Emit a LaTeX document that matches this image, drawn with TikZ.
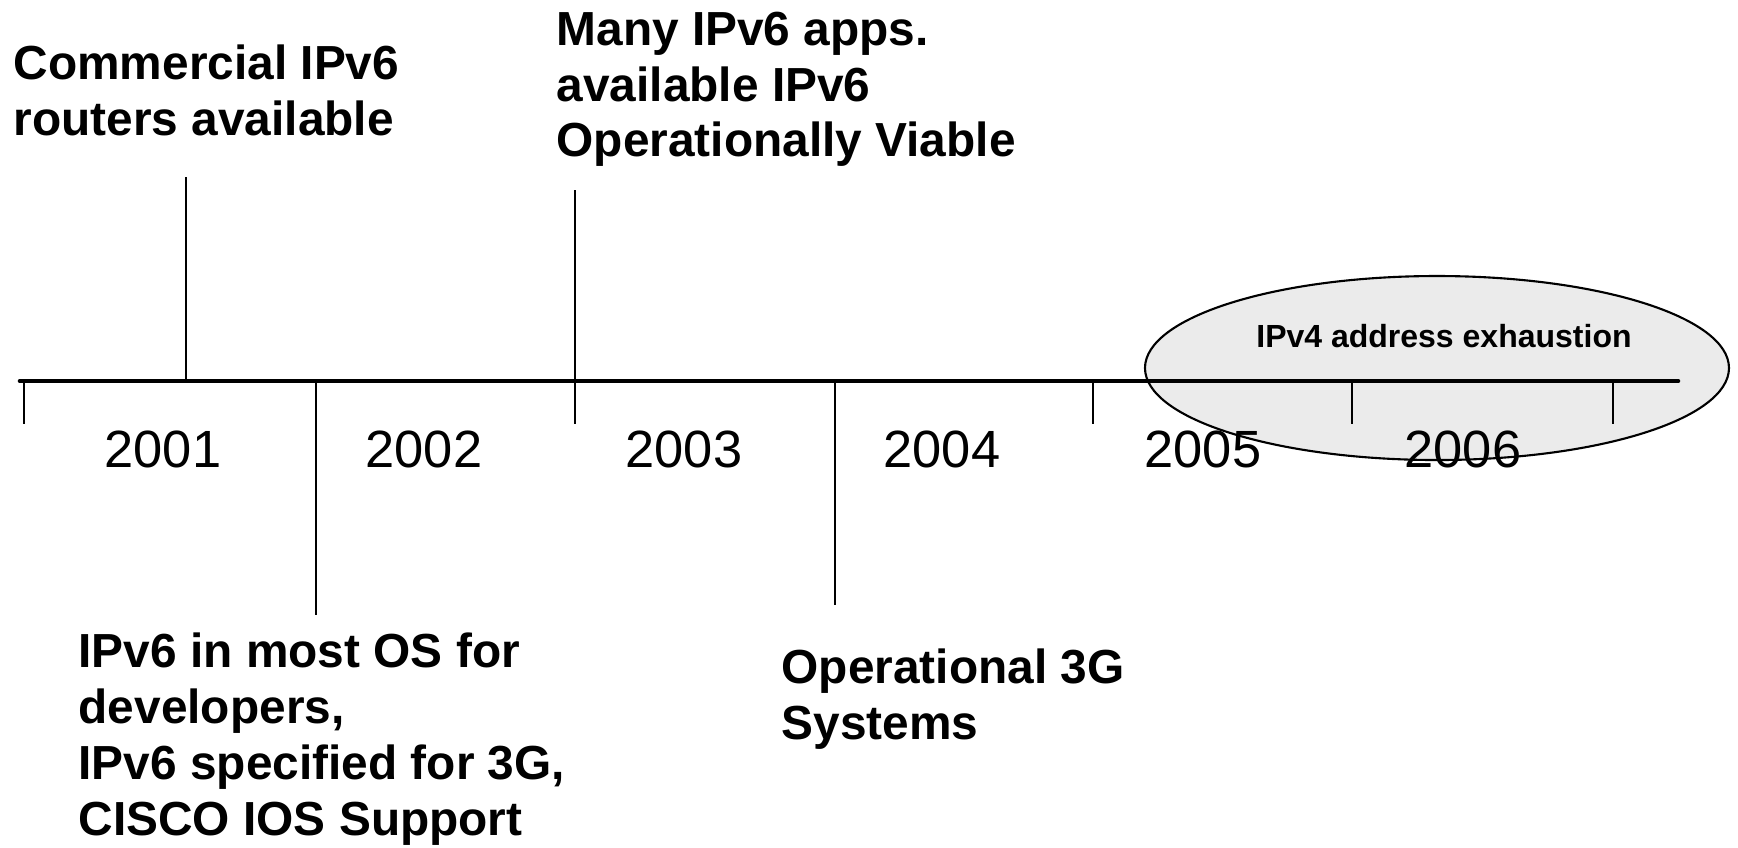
\documentclass[tikz,border=0pt]{standalone}
\usepackage{fontspec}
\setmainfont{Liberation Sans}
\definecolor{ovalgray}{HTML}{EBEBEB}
\begin{document}
\begin{tikzpicture}[x=0.01cm, y=-0.01cm,
    event/.style={font=\bfseries\fontsize{13.6}{15.9}\selectfont, align=left, anchor=north west, inner sep=0pt},
    year/.style={font=\fontsize{14.9}{17}\selectfont, inner sep=0pt},
    tick/.style={line width=0.6pt}]
    \useasboundingbox (0,0) rectangle (1738,847);

    % shaded period
    \draw[line width=0.6pt, fill=ovalgray] (1437,368) ellipse [x radius=292, y radius=92];
    \node[font=\bfseries\fontsize{9.1}{11}\selectfont, inner sep=0pt] (exhaust) at (1444,336) {IPv4 address exhaustion};

    % time axis
    \coordinate (axisL) at (20,381);
    \coordinate (axisR) at (1678,381);
    \draw[line width=1.3pt, line cap=round] (axisL) -- (axisR);
    \foreach \x in {24,316,575,835,1093,1352,1613}
        \draw[tick] (\x,381) -- (\x,424);
    \foreach \x/\y in {163/2001,424/2002,684/2003,942/2004,1203/2005,1463/2006}
        \node[year] (y\y) at (\x,449) {\y};

    % events above
    \node[event] (routers) at (13,44) {Commercial IPv6\\routers available};
    \node[event] (apps) at (556,11) {Many IPv6 apps.\\available IPv6\\Operationally Viable};
    \coordinate (routersTop) at (186,177);
    \coordinate (routersBase) at (186,381);
    \coordinate (appsTop) at (575,190);
    \coordinate (appsBase) at (575,381);
    \draw[tick] (routersTop) -- (routersBase);
    \draw[tick] (appsTop) -- (appsBase);

    % events below
    \node[event] (osdev) at (78,632) {IPv6 in most OS for\\developers,\\IPv6 specified for 3G,\\CISCO IOS Support};
    \node[event] (threeg) at (781,648) {Operational 3G\\Systems};
    \coordinate (osdevBase) at (316,381);
    \coordinate (osdevEnd) at (316,615);
    \coordinate (threegBase) at (835,381);
    \coordinate (threegEnd) at (835,605);
    \draw[tick] (osdevBase) -- (osdevEnd);
    \draw[tick] (threegBase) -- (threegEnd);
\end{tikzpicture}
\end{document}
